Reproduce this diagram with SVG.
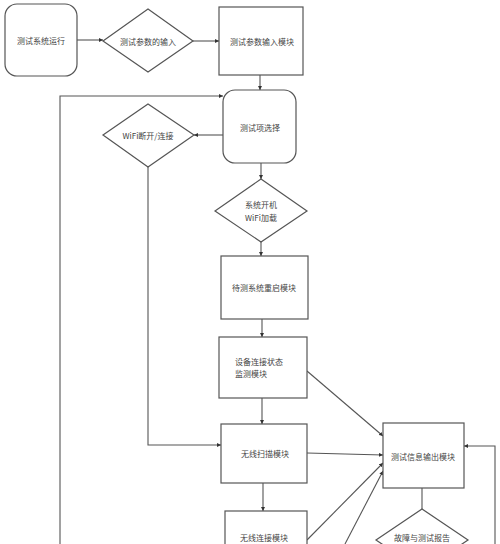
<svg xmlns="http://www.w3.org/2000/svg" width="500" height="544" viewBox="0 0 500 544">
<style>
.s{fill:#fff;stroke:#555;stroke-width:1.2}
.c{fill:none;stroke:#555;stroke-width:1.1}
text{font-family:"Noto Sans CJK SC","Noto Sans",sans-serif;font-size:8px;fill:#444;dominant-baseline:central}
.m{text-anchor:middle}
</style>
<defs>
<marker id="a" viewBox="0 0 6 6" refX="6" refY="3" markerWidth="4" markerHeight="4" orient="auto" markerUnits="userSpaceOnUse">
<path d="M0,0 L6,3 L0,6 z" fill="#333"/>
</marker>
</defs>
<rect width="500" height="544" fill="#fff"/>
<g id="connectors">
<path class="c" d="M77,40 H103" marker-end="url(#a)"/>
<path class="c" d="M193,41 H219" marker-end="url(#a)"/>
<path class="c" d="M260,75 V90" marker-end="url(#a)"/>
<path class="c" d="M60,544 V96 H223" marker-end="url(#a)"/>
<path class="c" d="M223,135 H194" marker-end="url(#a)"/>
<path class="c" d="M261,163 V179" marker-end="url(#a)"/>
<path class="c" d="M261,242 V256" marker-end="url(#a)"/>
<path class="c" d="M262,319 V337" marker-end="url(#a)"/>
<path class="c" d="M262,398 V424" marker-end="url(#a)"/>
<path class="c" d="M148,167 V445 H221" marker-end="url(#a)"/>
<path class="c" d="M263,483 V511" marker-end="url(#a)"/>
<path class="c" d="M307,371 L383,436" marker-end="url(#a)"/>
<path class="c" d="M307,453 L383,455" marker-end="url(#a)"/>
<path class="c" d="M307,540 L383,463" marker-end="url(#a)"/>
<path class="c" d="M345,544 L383,471" marker-end="url(#a)"/>
<path class="c" d="M495,544 V446 H464" marker-end="url(#a)"/>
<path class="c" d="M422,488 V509"/>
</g>
<g id="n1"><rect class="s" x="5" y="4" width="72" height="72" rx="12"/><text class="m" x="41" y="40">测试系统运行</text></g>
<g id="n2"><polygon class="s" points="103,41 148,9 193,41 148,72"/><text class="m" x="148" y="41">测试参数的输入</text></g>
<g id="n3"><rect class="s" x="219" y="7" width="84" height="68"/><text class="m" x="262" y="41">测试参数输入模块</text></g>
<g id="n4"><rect class="s" x="223" y="90" width="73" height="73" rx="12"/><text class="m" x="260" y="127">测试项选择</text></g>
<g id="n5"><polygon class="s" points="103,135 148,104 194,135 148,167"/><text class="m" x="148" y="135">WiFi断开/连接</text></g>
<g id="n6"><polygon class="s" points="215,211 261,179 307,211 261,242"/><text class="m" x="261" y="204">系统开机</text><text class="m" x="261" y="217">WiFi加载</text></g>
<g id="n7"><rect class="s" x="221" y="256" width="87" height="63"/><text class="m" x="264" y="287">待测系统重启模块</text></g>
<g id="n8"><rect class="s" x="219" y="337" width="88" height="61"/><text x="235" y="361">设备连接状态</text><text x="235" y="373">监测模块</text></g>
<g id="n9"><rect class="s" x="221" y="424" width="86" height="59"/><text class="m" x="265" y="453">无线扫描模块</text></g>
<g id="n10"><rect class="s" x="225" y="511" width="82" height="60"/><text class="m" x="264" y="537">无线连接模块</text></g>
<g id="n11"><rect class="s" x="383" y="423" width="81" height="65"/><text class="m" x="423" y="456">测试信息输出模块</text></g>
<g id="n12"><polygon class="s" points="376,540 422,509 468,540 422,571"/><text class="m" x="422" y="537">故障与测试报告</text></g>
</svg>
